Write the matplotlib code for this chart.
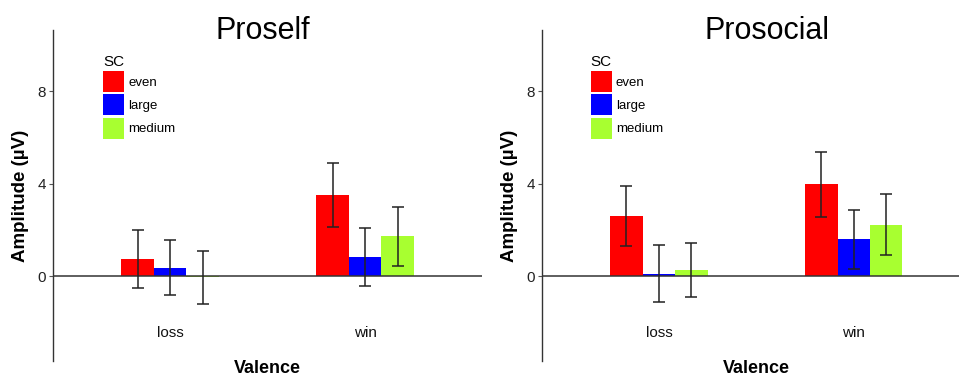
import numpy as np
import matplotlib
matplotlib.use("Agg")
import matplotlib.pyplot as plt
import matplotlib.transforms as mtransforms

plt.rcParams['font.family'] = ['Liberation Sans', 'DejaVu Sans']

# data
valence = ["loss", "win"]
sc_levels = ["even", "large", "medium"]
sc_colors = ["#FF0000", "#0000FF", "#A8FF30"]

proself_mean = {"even": [0.73, 3.51], "large": [0.37, 0.85], "medium": [-0.05, 1.73]}
proself_se = {"even": [1.25, 1.38], "large": [1.20, 1.25], "medium": [1.15, 1.28]}

prosocial_mean = {"even": [2.62, 3.97], "large": [0.11, 1.60], "medium": [0.27, 2.22]}
prosocial_se = {"even": [1.30, 1.41], "large": [1.22, 1.27], "medium": [1.17, 1.32]}

yticks = [0, 4, 8]

W, H = 959, 376
fig = plt.figure(figsize=(W / 100, H / 100), dpi=100)

# title, means, se, axes rect, right x-limit, title x (data)
panels = [
    ("Proself", proself_mean, proself_se, [53 / W, 15 / H, 429 / W, 331 / H], 2.6, 1.477),
    ("Prosocial", prosocial_mean, prosocial_se, [542 / W, 15 / H, 417 / W, 331 / H], 2.54, 1.554),
]

bar_w = 1 / 6
x = np.arange(1, len(valence) + 1)

for title, means, ses, pos, xmax, tx in panels:
    ax = fig.add_axes(pos)
    ax.set_xlim(0.4, xmax)
    ax.set_ylim(-3.66, 10.64)
    handles = []
    for j, lvl in enumerate(sc_levels):
        xs = x + (j - 1) * bar_w
        b = ax.bar(xs, means[lvl], width=bar_w, color=sc_colors[j], edgecolor='none',
                   label=lvl, zorder=2)
        handles.append(b)
        ax.errorbar(xs, means[lvl], yerr=ses[lvl], fmt='none', ecolor='#222222',
                    elinewidth=1.1, capsize=4, capthick=1.1, zorder=4)
    ax.axhline(0, color='#333333', lw=1.1, zorder=3)

    for s in ['top', 'right', 'bottom']:
        ax.spines[s].set_visible(False)
    ax.spines['left'].set_color('#333333')
    ax.spines['left'].set_linewidth(1.0)

    ax.set_yticks(yticks)
    ax.set_yticklabels([str(t) for t in yticks], fontsize=11, color='#222222')
    ax.tick_params(axis='y', length=3, width=0.8, color='#555555', pad=2)
    ax.set_xticks([])
    for xi, lab in zip(x, valence):
        ax.text(xi, -2.45, lab, ha='center', va='center', fontsize=11, color='#111111')

    ax.set_ylabel("Amplitude (µV)", fontsize=13.5, fontweight='bold', labelpad=6)

    # x label and title placed in data x / figure y
    trans = mtransforms.blended_transform_factory(ax.transData, fig.transFigure)
    ax.text(1.5, 3 / H, "Valence", transform=trans, ha='center', va='baseline',
            fontsize=13, fontweight='bold')
    ax.text(tx, 1 - 39 / H, title, transform=trans, ha='center', va='baseline',
            fontsize=22)

    leg = ax.legend(handles=handles, labels=sc_levels, title="SC", loc='upper left',
                    bbox_to_anchor=(0.117, 0.925), frameon=False, fontsize=9.5,
                    title_fontsize=11, handlelength=1.6, handleheight=2.08,
                    handletextpad=0.3, labelspacing=0.17, borderaxespad=0, borderpad=0)
    leg._legend_box.align = "left"

fig.savefig("out.png", dpi=100)
